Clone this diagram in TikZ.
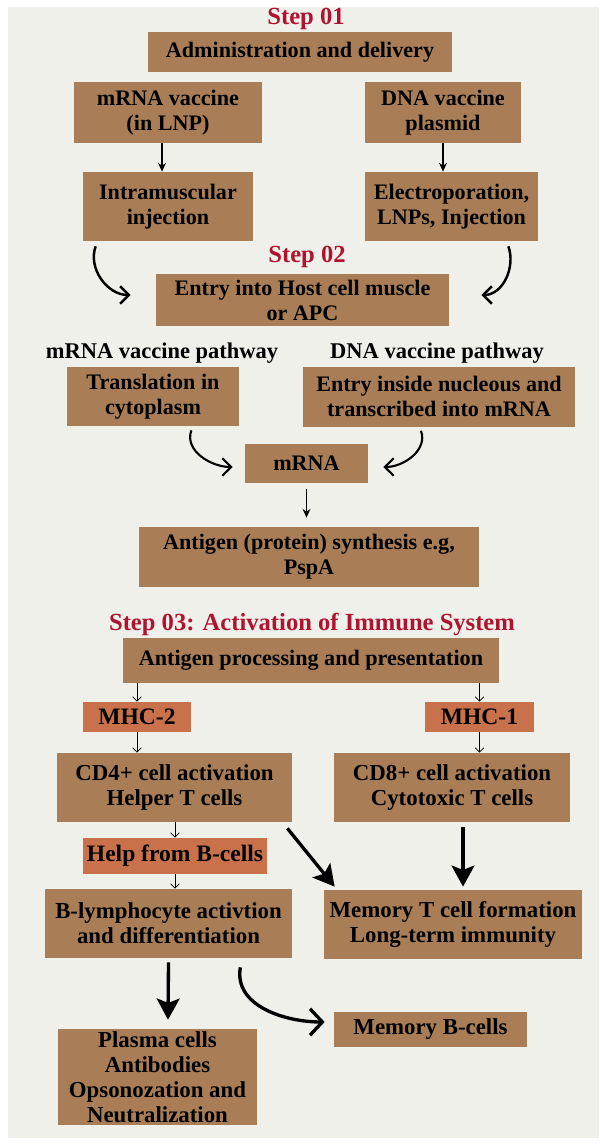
\documentclass[tikz,border=0pt]{standalone}
\usepackage{fontspec}
\setmainfont{Liberation Serif}
\usepackage{xcolor}
\usetikzlibrary{arrows.meta}
\definecolor{boxtan}{HTML}{A97E56}
\definecolor{mhcorange}{HTML}{C9714A}
\definecolor{stepred}{HTML}{B0132F}
\definecolor{panel}{HTML}{EFF0EA}
\newcommand{\topfont}{\bfseries\fontsize{12.6}{14.2}\selectfont}
\newcommand{\lowfont}{\bfseries\fontsize{13}{14.2}\selectfont}
\newcommand{\stepfont}{\bfseries\fontsize{14}{16}\selectfont}

\begin{document}
\begin{tikzpicture}[x=0.02cm,y=0.02cm,
  tanbox/.style 2 args={fill=boxtan,minimum width=#1*0.02cm,minimum height=#2*0.02cm,
                        align=center,inner sep=0pt,font=\topfont},
  orbox/.style 2 args={tanbox={#1}{#2},fill=mhcorange,font=\bfseries\fontsize{13.4}{15}\selectfont},
  steplab/.style={font=\stepfont,text=stepred,inner sep=0pt},
  pathlab/.style={font=\bfseries\fontsize{12.8}{14.2}\selectfont,inner sep=0pt},
  thinarr/.style={-{Stealth[length=5pt,width=4.5pt]},line width=0.7pt},
  tinyarr/.style={-{Straight Barb[length=2.5pt,width=5pt]},line width=0.45pt},
  fatarr/.style={-{Stealth[length=12pt,width=13pt,inset=2.5pt]},line width=1.9pt},
  curvarr/.style={-{Straight Barb[length=5pt,width=10pt]},line width=1.4pt}]

\fill[white] (0,0) rectangle (599,-1145);
\useasboundingbox (0,0) rectangle (599,-1145);
\fill[panel] (8,-7) rectangle (599,-1138);

% Step 01
\node[steplab] (s1) at (306,-19) {Step 01};
\node[tanbox={304}{40}] (admin) at (300,-52) {Administration and delivery};
\node[tanbox={188}{61}] (mrnavac) at (168,-112.5) {mRNA vaccine\\(in LNP)};
\node[tanbox={156}{61}] (dnavac) at (443,-112.5) {DNA vaccine\\plasmid};
\node[tanbox={170}{69}] (intra) at (168,-206.5) {Intramuscular\\injection};
\node[tanbox={173}{69}] (electro) at (451.5,-206.5) {Electroporation,\\LNPs, Injection};

\draw[thinarr] ([xshift=-0.12cm]mrnavac.south) -- ([xshift=-0.12cm]intra.north);
\draw[thinarr] (dnavac.south) -- (dnavac.south |- electro.north);

% Step 02
\node[steplab] (s2) at (307,-257) {Step 02};
\node[tanbox={293}{52}] (host) at (302.5,-300) {Entry into Host cell muscle\\or APC};
\node[pathlab] (mpath) at (162,-353) {mRNA vaccine pathway};
\node[pathlab] (dpath) at (437,-353) {DNA vaccine pathway};
\node[tanbox={172}{59}] (transl) at (153,-396.5) {Translation in\\cytoplasm};
\node[tanbox={272}{60}] (nucl) at (439,-396.5) {Entry inside nucleous and\\transcribed into mRNA};
\node[tanbox={123}{39}] (mrna) at (306.5,-463.5) {mRNA};
\node[tanbox={340}{60}] (antig) at (309,-557) {Antigen (protein) synthesis e.g,\\PspA};

\draw[curvarr] ([shift={(13,-5)}]intra.south west) to[out=250,in=180] ([shift={(-25,5)}]host.west);
\draw[curvarr] ([shift={(-30,-5)}]electro.south east) to[out=-70,in=0] ([shift={(32,5)}]host.east);
\draw[curvarr,line width=1.2pt] ([shift={(-48,-4)}]transl.south east) to[out=250,in=180] ([shift={(-12,-3.5)}]mrna.west);
\draw[curvarr,line width=1.2pt] ([shift={(-18,-4)}]nucl.south) to[out=-70,in=0] ([shift={(15,-3.5)}]mrna.east);
\draw[thinarr,shorten <=0.12cm,shorten >=0.18cm] (mrna.south) -- (mrna.south |- antig.north);

% Step 03
\node[steplab] (s3) at (312,-624) {Step 03: Activation of Immune System};
\node[tanbox={376}{45}] (proc) at (311,-660.5) {Antigen processing and presentation};
\node[orbox={108}{30}] (mhc2) at (137,-717) {MHC-2};
\node[orbox={109}{30}] (mhc1) at (479.5,-717) {MHC-1};
\node[tanbox={235}{69},font=\lowfont] (cd4) at (174.5,-787.5) {CD4+ cell activation\\Helper T cells};
\node[tanbox={236}{69},font=\lowfont] (cd8) at (452,-787.5) {CD8+ cell activation\\Cytotoxic T cells};
\node[orbox={184}{36}] (helpb) at (175,-856) {Help from B-cells};
\node[tanbox={247}{69},font=\lowfont] (blymph) at (168.5,-923.5) {B-lymphocyte activtion\\and differentiation};
\node[tanbox={258}{69},font=\lowfont] (memt) at (453,-924.5) {Memory T cell formation\\Long-term immunity};
\node[tanbox={193}{35},font=\lowfont] (memb) at (430.5,-1029.5) {Memory B-cells};
\node[tanbox={199}{96},font=\lowfont] (plasma) at (157.5,-1077) {Plasma cells\\Antibodies\\Opsonozation and\\Neutralization};

\draw[tinyarr] (proc.south -| mhc2.north) -- (mhc2.north);
\draw[tinyarr] (proc.south -| mhc1.north) -- (mhc1.north);
\draw[tinyarr] (mhc2.south) -- (mhc2.south |- cd4.north);
\draw[tinyarr] (mhc1.south) -- (mhc1.south |- cd8.north);
\draw[tinyarr] (cd4.south -| helpb.north) -- (helpb.north);
\draw[tinyarr] (helpb.south) -- (helpb.south |- blymph.north);

\draw[fatarr] ([shift={(-5,-6)}]cd4.south east) -- ([shift={(11,3)}]memt.north west);
\draw[fatarr] ([shift={(11,-5)}]cd8.south) -- ([shift={(10,3)}]memt.north);
\draw[fatarr] ([shift={(0,-4)}]blymph.south) -- ([shift={(10.5,9)}]plasma.north);
\draw[curvarr,line width=1.9pt,-{Straight Barb[length=7pt,width=15pt]}]
  ([shift={(-52,-9)}]blymph.south east) to[out=260,in=180] ([shift={(-9,7.5)}]memb.west);
\end{tikzpicture}
\end{document}
